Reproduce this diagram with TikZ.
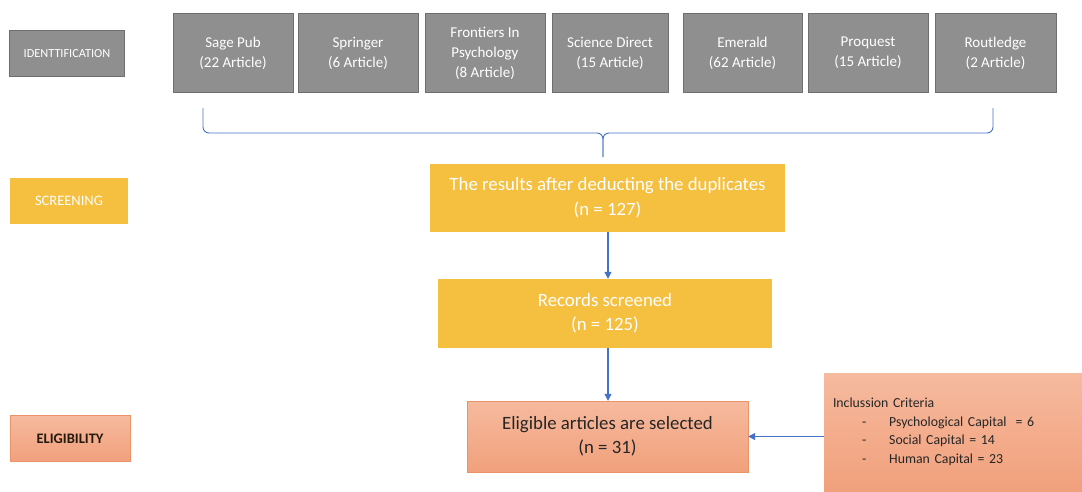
\documentclass[tikz,border=0pt]{standalone}
\usepackage{fontspec}
\setmainfont{Carlito}
\usetikzlibrary{arrows.meta}

\definecolor{srcgray}{HTML}{8F8F8F}
\definecolor{srcline}{HTML}{6E6E6E}
\definecolor{scryellow}{HTML}{F5BF40}
\definecolor{salmontop}{HTML}{F6BA9E}
\definecolor{salmonbot}{HTML}{F1A07C}
\definecolor{salmonline}{HTML}{EA9268}
\definecolor{flowblue}{HTML}{4472C4}

\begin{document}
\begin{tikzpicture}[x=1pt,y=-1pt,
    srcbox/.style={draw=srcline, fill=srcgray, text=white, minimum height=79pt,
      inner sep=0pt, align=center, font=\fontsize{15}{20}\selectfont},
    stagebox/.style={minimum width=115pt, minimum height=46pt, inner sep=0pt},
    ybox/.style={fill=scryellow, text=white, inner sep=0pt, align=center,
      font=\fontsize{18.8}{24.5}\selectfont},
    sbox/.style={draw=salmonline, top color=salmontop, bottom color=salmonbot,
      inner sep=0pt, text=black!85, font=\fontsize{18.8}{24.5}\selectfont},
    flow/.style={draw=flowblue, line width=1.1pt,
      -{Triangle[width=7pt,length=7pt]}}]
  \useasboundingbox (0,0) rectangle (1082,491);

  % stage labels
  \node[stagebox, draw=srcline, fill=srcgray, text=white,
    font=\fontsize{12.3}{14}\selectfont] (ident) at (67,53.5) {IDENTTIFICATION};
  \node[stagebox, fill=scryellow, text=white, minimum width=118pt,
    font=\fontsize{14.5}{16}\selectfont] (screen) at (69,201) {SCREENING};
  \node[stagebox, draw=salmonline, top color=salmontop, bottom color=salmonbot,
    text=black!80!brown, minimum width=120pt,
    font=\fontsize{14.5}{16}\selectfont\bfseries] (elig) at (70,438.5) {ELIGIBILITY};

  % databases
  \foreach \x/\w/\name/\txt in {
      233/120/sage/{Sage Pub\\(22 Article)},
      358/120/springer/{Springer\\(6 Article)},
      485/120/frontiers/{Frontiers In\\Psychology\\(8 Article)},
      610/116/direct/{Science Direct\\(15 Article)},
      742.5/119/emerald/{Emerald\\(62 Article)},
      868/120/proquest/{Proquest\\(15 Article)},
      995.5/121/routledge/{Routledge\\(2 Article)}} {
    \node[srcbox, minimum width=\w pt] (\name) at (\x,53) {\txt};
  }

  % brace
  \coordinate (bl) at (203,108);
  \coordinate (br) at (993,108);
  \coordinate (tip) at (603,157);
  \draw[flowblue, line width=0.9pt, rounded corners=6pt]
    (bl) |- (tip |- 0,133) -- (tip);
  \draw[flowblue, line width=0.9pt, rounded corners=6pt]
    (br) |- (tip |- 0,133) -- (tip);

  % screening
  \node[ybox, minimum width=355pt, minimum height=68pt] (dedup) at (607.5,198)
    {The results after deducting the duplicates\\(n = 127)};
  \node[ybox, minimum width=334pt, minimum height=69pt] (records) at (605,313.5)
    {Records screened\\(n = 125)};

  % eligibility
  \node[sbox, align=left, minimum width=281pt, minimum height=71pt, align=center]
    (selected) at (607.5,436.5) {Eligible articles are selected\\(n = 31)};
  \node[sbox, draw=none, align=left, minimum width=258pt, minimum height=118pt,
    text width=240pt, font=\fontsize{13.8}{18.5}\selectfont] (criteria) at (953,432)
    {Inclussion Criteria\\
     \hspace*{29pt}-\hspace{23pt}Psychological Capital~~= 6\\
     \hspace*{29pt}-\hspace{23pt}Social Capital = 14\\
     \hspace*{29pt}-\hspace{23pt}Human Capital = 23};

  % arrows
  \draw[flow] (dedup.south -| 608,0) -- (records.north -| 608,0);
  \draw[flow] (records.south -| 608,0) -- (selected.north -| 608,0);
  \draw[flow] (criteria.west |- selected.east) -- (selected.east);
\end{tikzpicture}
\end{document}
